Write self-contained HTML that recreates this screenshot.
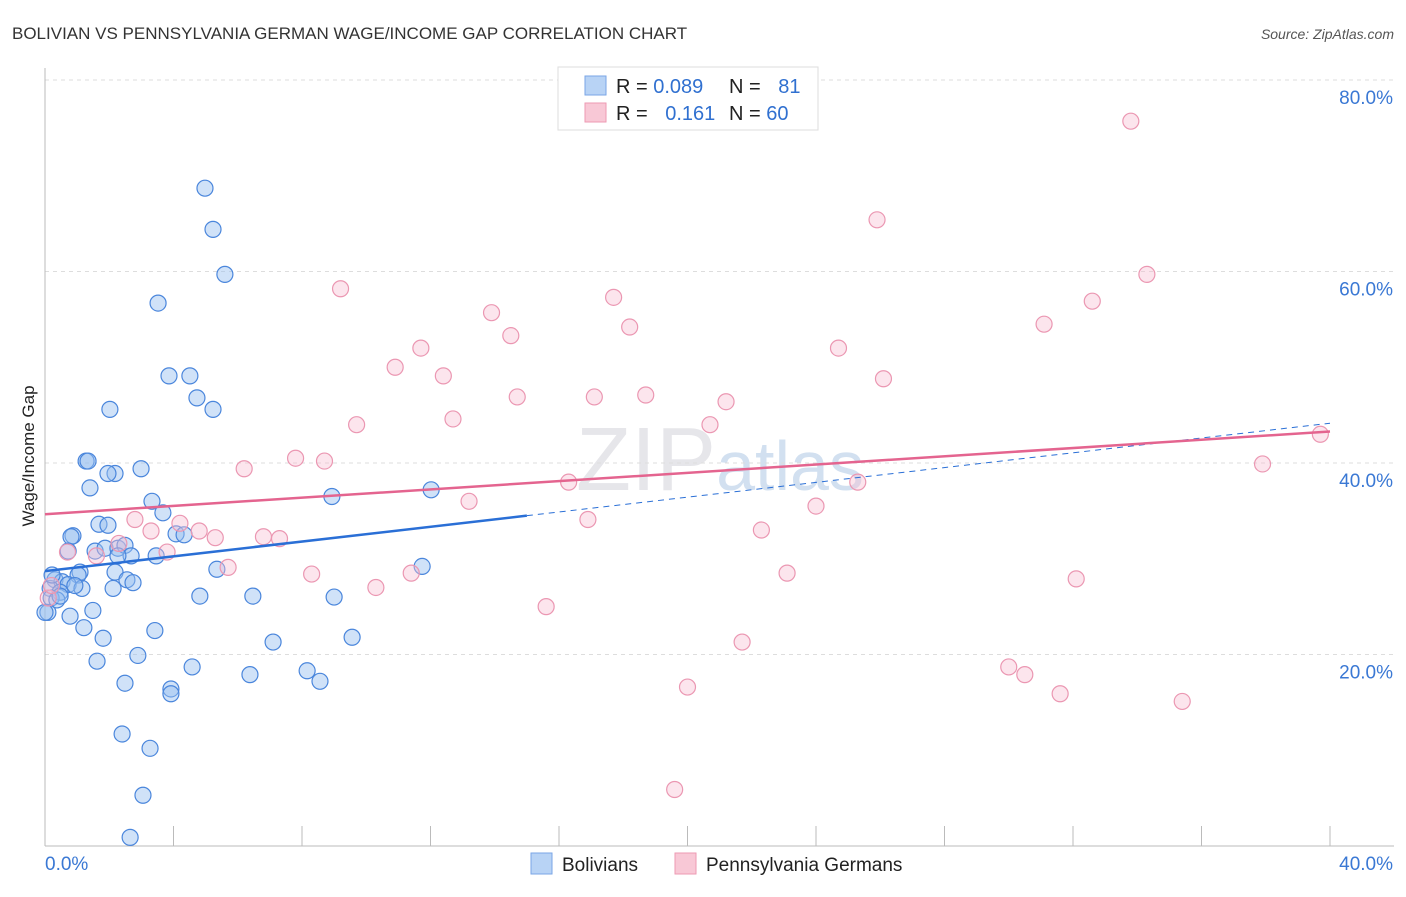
<!DOCTYPE html>
<html><head><meta charset="utf-8"><style>
body{margin:0;background:#fff;font-family:"Liberation Sans",sans-serif}
svg text{font-family:"Liberation Sans",sans-serif}
</style></head><body>
<svg id="chart" width="1406" height="892">
<text x="12" y="39" font-size="17" fill="#333">BOLIVIAN VS PENNSYLVANIA GERMAN WAGE/INCOME GAP CORRELATION CHART</text>
<text x="1394" y="39" font-size="14" fill="#555" font-style="italic" text-anchor="end">Source: ZipAtlas.com</text>
<text x="720" y="490" font-size="90" fill="#e6e6ea" text-anchor="middle" font-family="Liberation Serif">ZIP<tspan fill="#d2e0f0" font-family="Liberation Sans" font-size="70">atlas</tspan></text>
<g id="grid"></g><g id="axes"></g><g id="pts"></g><g id="lines"></g>
<text transform="translate(34,456) rotate(-90)" font-size="17" fill="#222" text-anchor="middle">Wage/Income Gap</text>
<g>
<rect x="558" y="67" width="260" height="63" fill="#fff" stroke="#ddd"/>
<rect x="585" y="76" width="21" height="19" fill="#b8d3f5" stroke="#7aa6e6"/>
<rect x="585" y="103" width="21" height="19" fill="#f8c8d6" stroke="#ee9ab3"/>
<text x="616" y="93" font-size="20" fill="#222">R = <tspan fill="#3070d0">0.089</tspan></text>
<text x="729" y="93" font-size="20" fill="#222">N = <tspan fill="#3070d0" dx="12">81</tspan></text>
<text x="616" y="120" font-size="20" fill="#222">R = <tspan fill="#3070d0" dx="12">0.161</tspan></text>
<text x="729" y="120" font-size="20" fill="#222">N = <tspan fill="#3070d0">60</tspan></text>
</g>
<g>
<rect x="531" y="853" width="21" height="21" fill="#b8d3f5" stroke="#7aa6e6"/>
<text x="562" y="871" font-size="19" fill="#222">Bolivians</text>
<rect x="675" y="853" width="21" height="21" fill="#f8c8d6" stroke="#ee9ab3"/>
<text x="706" y="871" font-size="19" fill="#222">Pennsylvania Germans</text>
</g>
</svg>
<script>
const yTicks=[20,40,60,80];
const xTickLabels=["0.0%","40.0%"];
const blueX=[4.98,5.23,5.60,3.52,3.86,4.51,4.73,5.23,2.02,1.28,1.34,2.18,1.96,2.99,1.40,3.33,3.67,8.93,12.02,1.68,1.96,0.87,0.81,4.08,4.33,0.72,1.56,1.87,2.27,2.49,2.68,2.27,3.46,1.09,1.03,2.18,2.55,2.74,5.35,11.74,0.31,0.53,0.72,0.16,1.15,0.47,2.12,0.19,0.37,0.09,0.78,1.49,1.21,3.42,4.82,6.47,9.00,1.81,7.10,9.56,1.62,2.89,4.58,6.38,8.16,8.56,2.49,3.92,3.92,2.40,3.27,3.05,2.65,0.0,0.47,0.93,0.22];
const blueY=[68.7,64.4,59.7,56.7,49.1,49.1,46.8,45.6,45.6,40.2,40.2,38.9,38.9,39.4,37.4,36.0,34.8,36.5,37.2,33.6,33.5,32.4,32.3,32.6,32.5,30.8,30.8,31.1,31.1,31.4,30.3,30.3,30.3,28.6,28.3,28.6,27.8,27.5,28.9,29.2,27.8,27.6,27.3,26.9,26.9,26.5,26.9,25.9,25.7,24.4,24.0,24.6,22.8,22.5,26.1,26.1,26.0,21.7,21.3,21.8,19.3,19.9,18.7,17.9,18.3,17.2,17.0,16.4,15.9,11.7,10.2,5.3,0.9,24.4,26.1,27.2,28.3];
const pinkX=[33.8,25.9,34.3,9.2,17.7,13.9,32.6,14.5,18.2,31.1,11.7,24.7,10.9,12.4,26.1,14.7,17.1,18.7,21.2,12.7,9.7,20.7,37.9,39.7,6.2,7.8,8.7,25.3,16.3,13.2,24.0,2.8,3.3,4.2,4.8,5.3,16.9,22.3,6.8,7.3,0.7,1.6,2.3,3.8,5.7,8.3,11.4,23.1,32.1,10.3,15.6,21.7,30.0,30.5,31.6,35.4,20.0,19.6,0.1,0.2];
const pinkY=[75.7,65.4,59.7,58.2,57.3,55.7,56.9,53.3,54.2,54.5,52.0,52.0,50.0,49.1,48.8,46.9,46.9,47.1,46.4,44.6,44.0,44.0,39.9,43.0,39.4,40.5,40.2,38.0,38.0,36.0,35.5,34.1,32.9,33.7,32.9,32.2,34.1,33.0,32.3,32.1,30.7,30.3,31.6,30.7,29.1,28.4,28.5,28.5,27.9,27.0,25.0,21.3,18.7,17.9,15.9,15.1,16.6,5.9,25.9,27.2];
const X0=45,X1=1330,Y0=846,YTOP=80;
const sx=v=>X0+(v/40)*(X1-X0);
const sy=v=>Y0-(v/80)*(Y0-YTOP);
const NS="http://www.w3.org/2000/svg";
function mk(t,a,p){const e=document.createElementNS(NS,t);for(const k in a)e.setAttribute(k,a[k]);p.appendChild(e);return e;}
const grid=document.getElementById('grid'),axes=document.getElementById('axes'),pts=document.getElementById('pts'),lines=document.getElementById('lines');
yTicks.forEach(t=>{
 const l=mk('line',{x1:X0,x2:1394,y1:sy(t),y2:sy(t),stroke:'#ddd','stroke-dasharray':'4,4'},grid);
 
 
 const tx=mk('text',{x:1393,y:sy(t)+24,'font-size':19,fill:'#3a78d4','text-anchor':'end'},axes);
 tx.textContent=t.toFixed(1)+'%';
 
 
});
mk('line',{x1:X0,x2:X0,y1:68,y2:846,stroke:'#bbb'},axes);
mk('line',{x1:X0,x2:1394,y1:846,y2:846,stroke:'#bbb'},axes);
for(let i=0;i<=10;i++){const x=X0+i*(X1-X0)/10;mk('line',{x1:x,x2:x,y1:826,y2:846,stroke:'#bbb'},axes);}
const xl=mk('text',{x:45,y:870,'font-size':19,fill:'#3a78d4'},axes);xl.textContent=xTickLabels[0];


const xr=mk('text',{x:1393,y:870,'font-size':19,fill:'#3a78d4','text-anchor':'end'},axes);xr.textContent=xTickLabels[1];


blueX.forEach((v,i)=>{
 const c=mk('circle',{cx:sx(v),cy:sy(blueY[i]),r:8,fill:'rgba(150,190,240,0.45)',stroke:'#4a86dc','stroke-width':1.2},pts);
 
 
});
pinkX.forEach((v,i)=>{
 const c=mk('circle',{cx:sx(v),cy:sy(pinkY[i]),r:8,fill:'rgba(248,190,210,0.4)',stroke:'#eb97b2','stroke-width':1.2},pts);
 
 
});
function fit(xs,ys){const n=xs.length;let mx=0,my=0;xs.forEach((x,i)=>{mx+=x;my+=ys[i]});mx/=n;my/=n;let a=0,b=0;xs.forEach((x,i)=>{a+=(x-mx)*(ys[i]-my);b+=(x-mx)**2});const s=a/b;return [s,my-s*mx];}
const bf=fit(blueX,blueY),pf=fit(pinkX,pinkY);
const bl=mk('line',{x1:sx(0),y1:sy(bf[1]),x2:sx(15),y2:sy(bf[1]+bf[0]*15),stroke:'#2a6fd6','stroke-width':2.5},lines);


const bd=mk('line',{x1:sx(15),y1:sy(bf[1]+bf[0]*15),x2:sx(40),y2:sy(bf[1]+bf[0]*40),stroke:'#2a6fd6','stroke-width':1,'stroke-dasharray':'6,5'},lines);


const pl=mk('line',{x1:sx(0),y1:sy(pf[1]),x2:sx(40),y2:sy(pf[1]+pf[0]*40),stroke:'#e4648f','stroke-width':2.5},lines);


</script>
</body></html>
